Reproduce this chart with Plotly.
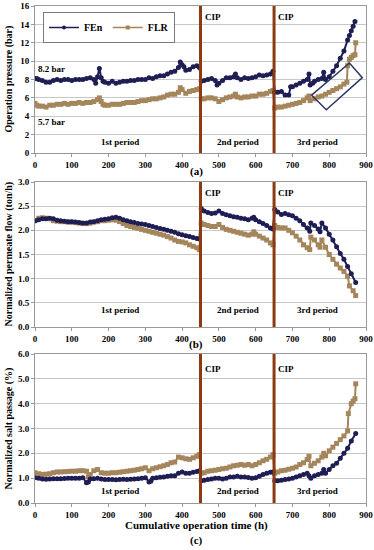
import plotly.graph_objects as go

# ---------------- data (time h, value) ----------------
fen_pressure = [(0,8.1),(5,8.1),(10,8.0),(20,7.9),(30,7.7),(40,7.7),(50,7.9),(60,8.0),(70,7.9),(80,8.0),(90,8.0),(100,7.9),(110,8.0),(120,8.0),(130,8.0),(140,8.1),(150,8.2),(160,8.0),(165,7.6),(170,8.3),(175,9.2),(180,8.2),(185,7.8),(190,7.7),(200,7.6),(210,7.8),(220,7.6),(230,7.7),(240,7.8),(250,7.8),(260,7.9),(270,7.9),(280,8.0),(290,8.0),(300,8.0),(310,8.2),(320,8.1),(330,8.3),(340,8.4),(350,8.4),(360,8.6),(370,8.8),(380,8.9),(390,9.3),(395,9.9),(400,9.6),(405,9.4),(410,9.0),(420,9.1),(430,9.4),(440,9.5),(447,9.3),
                (452,7.8),(460,7.9),(470,8.0),(480,8.1),(490,7.9),(495,7.4),(500,7.6),(510,7.9),(520,8.2),(530,8.2),(540,8.3),(545,8.6),(550,8.2),(560,8.0),(570,8.2),(580,8.1),(590,8.2),(600,8.3),(610,8.5),(620,8.4),(630,8.5),(640,8.6),(647,8.9),
                (652,6.6),(660,6.6),(670,6.7),(680,6.3),(690,6.3),(695,7.2),(700,7.2),(710,7.4),(720,7.6),(730,7.8),(740,8.0),(745,8.6),(748,7.4),(755,7.6),(760,7.8),(770,8.0),(780,8.1),(785,8.8),(790,8.0),(800,8.3),(810,8.9),(820,9.5),(830,10.3),(840,11.1),(850,12.3),(855,12.8),(860,13.3),(865,13.8),(870,14.3)]
flr_pressure = [(0,5.4),(5,5.2),(10,5.1),(20,5.1),(30,5.0),(40,5.2),(50,5.2),(60,5.3),(70,5.3),(80,5.4),(90,5.3),(100,5.4),(110,5.4),(120,5.5),(130,5.4),(140,5.5),(150,5.5),(160,5.6),(170,5.8),(175,6.0),(180,5.6),(185,5.3),(190,5.2),(200,5.2),(210,5.3),(220,5.3),(230,5.3),(240,5.4),(250,5.5),(260,5.5),(270,5.5),(280,5.6),(290,5.7),(300,5.7),(310,5.8),(320,5.9),(330,5.9),(340,6.0),(350,6.1),(360,6.3),(370,6.4),(380,6.4),(390,6.6),(395,7.1),(400,6.9),(410,6.5),(420,6.7),(430,6.8),(440,6.9),(447,7.0),
                (452,5.9),(460,5.9),(470,6.0),(480,6.0),(490,5.9),(500,5.6),(510,5.8),(520,6.0),(530,6.1),(540,6.2),(545,6.4),(550,6.1),(560,6.0),(570,6.1),(580,6.1),(590,6.2),(600,6.2),(610,6.4),(620,6.4),(630,6.5),(640,6.7),(647,6.8),
                (652,4.9),(660,5.0),(670,5.0),(680,5.1),(690,5.2),(700,5.3),(710,5.4),(720,5.5),(730,5.7),(740,6.0),(745,6.2),(748,5.7),(760,5.9),(770,6.1),(780,6.2),(790,6.4),(800,6.6),(810,6.8),(820,7.0),(830,7.2),(840,7.5),(848,7.7),(850,9.5),(855,10.2),(860,10.4),(865,10.6),(870,10.7),(872,12.0)]

fen_flow = [(0,2.2),(10,2.22),(20,2.24),(30,2.24),(40,2.25),(50,2.24),(60,2.21),(70,2.2),(80,2.19),(90,2.18),(100,2.18),(110,2.17),(120,2.16),(130,2.15),(140,2.15),(150,2.17),(160,2.18),(170,2.2),(180,2.22),(190,2.23),(200,2.24),(210,2.26),(220,2.27),(230,2.25),(240,2.22),(250,2.2),(260,2.18),(270,2.16),(280,2.14),(290,2.13),(300,2.12),(310,2.1),(320,2.08),(330,2.06),(340,2.04),(350,2.02),(360,2.0),(370,1.98),(380,1.96),(390,1.93),(400,1.91),(410,1.89),(420,1.87),(430,1.85),(440,1.83),(447,1.82),
            (452,2.45),(460,2.4),(470,2.37),(480,2.35),(490,2.36),(500,2.4),(510,2.35),(520,2.32),(530,2.3),(540,2.28),(550,2.27),(560,2.25),(570,2.24),(580,2.22),(590,2.25),(595,2.27),(600,2.22),(610,2.18),(620,2.14),(630,2.1),(640,2.05),(647,2.03),
            (652,2.43),(660,2.38),(670,2.33),(680,2.35),(690,2.32),(700,2.3),(710,2.25),(720,2.2),(730,2.12),(740,2.05),(747,1.98),(750,2.15),(760,2.1),(770,2.03),(775,1.97),(780,2.15),(790,2.05),(800,1.92),(810,1.8),(820,1.66),(830,1.52),(840,1.4),(850,1.25),(860,1.1),(872,0.92)]
flr_flow = [(0,2.2),(10,2.25),(20,2.26),(30,2.25),(40,2.24),(50,2.2),(60,2.19),(70,2.18),(80,2.18),(90,2.17),(100,2.17),(110,2.16),(120,2.15),(130,2.14),(140,2.14),(150,2.15),(160,2.17),(170,2.18),(180,2.2),(190,2.2),(200,2.21),(210,2.22),(220,2.21),(230,2.18),(240,2.14),(250,2.1),(260,2.08),(270,2.06),(280,2.04),(290,2.02),(300,2.0),(310,1.98),(320,1.96),(330,1.94),(340,1.92),(350,1.9),(360,1.87),(370,1.84),(380,1.8),(390,1.77),(400,1.76),(410,1.74),(420,1.7),(430,1.67),(440,1.64),(447,1.6),
            (452,2.15),(460,2.12),(470,2.1),(480,2.08),(490,2.08),(500,2.12),(510,2.06),(520,2.02),(530,2.0),(540,1.98),(550,1.96),(560,1.94),(570,1.92),(580,1.9),(590,1.92),(595,1.97),(600,1.92),(610,1.88),(620,1.84),(630,1.8),(640,1.74),(647,1.7),
            (652,2.1),(660,2.06),(670,2.05),(680,2.05),(690,2.0),(700,1.95),(710,1.88),(720,1.8),(730,1.7),(740,1.64),(747,1.6),(750,1.86),(760,1.8),(770,1.7),(775,1.65),(780,1.8),(790,1.65),(800,1.5),(810,1.4),(820,1.3),(830,1.22),(840,1.15),(850,1.05),(855,0.85),(865,0.75),(872,0.65)]

fen_salt = [(0,1.02),(10,1.0),(20,0.97),(30,0.96),(40,0.97),(50,0.98),(60,0.98),(70,0.98),(80,0.99),(90,1.0),(100,1.0),(110,1.0),(120,1.0),(130,1.02),(140,0.82),(145,0.85),(150,0.97),(160,0.98),(170,1.0),(180,0.97),(190,0.95),(200,0.95),(210,0.95),(220,0.94),(230,0.95),(240,0.96),(250,0.95),(260,0.96),(270,0.97),(280,0.98),(290,1.0),(300,1.02),(310,0.85),(315,0.88),(320,1.0),(330,1.02),(340,1.04),(350,1.05),(360,1.08),(370,1.1),(380,1.1),(390,1.2),(400,1.25),(410,1.2),(420,1.2),(430,1.24),(440,1.27),(447,1.3),
            (452,0.9),(460,0.92),(470,0.95),(480,0.97),(490,1.0),(500,1.0),(510,0.97),(520,1.0),(530,1.05),(540,1.05),(550,1.08),(560,1.05),(570,1.05),(580,1.03),(590,1.0),(600,1.02),(610,1.08),(620,1.15),(630,1.2),(640,1.24),(647,1.25),
            (652,0.9),(660,0.9),(670,0.92),(680,0.95),(690,0.97),(700,1.0),(710,1.05),(720,1.1),(730,1.15),(740,1.2),(745,1.1),(750,1.0),(760,1.1),(770,1.15),(780,1.2),(785,1.35),(790,1.2),(800,1.35),(810,1.5),(820,1.6),(830,1.8),(840,2.0),(850,2.2),(860,2.5),(872,2.8)]
flr_salt = [(0,1.22),(10,1.18),(20,1.15),(30,1.16),(40,1.18),(50,1.22),(60,1.25),(70,1.25),(80,1.26),(90,1.27),(100,1.28),(110,1.28),(120,1.3),(130,1.3),(140,1.28),(145,1.05),(150,1.15),(160,1.3),(170,1.35),(180,1.22),(190,1.2),(200,1.2),(210,1.22),(220,1.22),(230,1.24),(240,1.26),(250,1.28),(260,1.3),(270,1.32),(280,1.35),(290,1.38),(300,1.42),(310,1.3),(320,1.38),(330,1.42),(340,1.46),(350,1.5),(360,1.55),(370,1.62),(380,1.65),(390,1.85),(400,1.82),(410,1.78),(420,1.76),(430,1.82),(440,1.88),(447,1.95),
            (452,1.2),(460,1.22),(470,1.28),(480,1.3),(490,1.32),(500,1.35),(510,1.38),(520,1.4),(530,1.45),(540,1.5),(550,1.52),(560,1.55),(570,1.52),(580,1.55),(590,1.5),(600,1.55),(610,1.62),(620,1.7),(630,1.76),(640,1.85),(647,1.95),
            (652,1.2),(660,1.25),(670,1.3),(680,1.32),(690,1.36),(700,1.4),(710,1.45),(720,1.55),(730,1.62),(740,1.75),(745,1.88),(750,1.5),(760,1.6),(770,1.7),(780,1.85),(785,2.0),(790,1.9),(800,2.1),(810,2.25),(820,2.4),(830,2.55),(840,2.7),(850,2.9),(852,3.6),(860,4.0),(865,4.1),(870,4.2),(872,4.8)]

cip_times = [450, 650]
period_labels = ["1st period", "2nd period", "3rd period"]
period_x = [230, 553, 768]
x_ticks = [0, 100, 200, 300, 400, 500, 600, 700, 800, 900]
y_titles = ["Operation pressure (bar)", "Normalized permeate flow (ton/h)", "Normalized salt passage (%)"]
panel_tags = ["(a)", "(b)", "(c)"]
# rotated box highlighting the 3rd period FLR rise (time, pressure)
box_corners = [(752, 6.3), (855, 9.8), (890, 8.2), (792, 4.7)]

# ---------------- styling ----------------
FEN_C = "#1E1E55"
FLR_C = "#A5865C"
CIP_C = "#8B3A12"
GRID_C = "#C8C8C8"
AX_C = "#9A9A9A"
SERIF = "Liberation Serif"

W, H = 374, 550
PLOT_L, PLOT_R = 35, 366

def py(px):
    return (H - px) / H

def pxx(px):
    return (px - PLOT_L) / (PLOT_R - PLOT_L)

domains = [(py(153), py(6)), (py(327), py(182)), (py(503), py(354))]
yranges = [(0, 16), (0, 3.0), (0, 6.0)]
ydticks = [2, 0.5, 1.0]
yfmts = ["d", ".1f", ".1f"]
period_y = [1.2, 0.35, 0.48]
tag_px = [171, 344, 540]
cip_px = [17, 193, 369]

fig = go.Figure()
series = [(fen_pressure, flr_pressure), (fen_flow, flr_flow), (fen_salt, flr_salt)]
for i, (fen, flr) in enumerate(series):
    xa = "x" if i == 0 else f"x{i+1}"
    ya = "y" if i == 0 else f"y{i+1}"
    fig.add_trace(go.Scatter(x=[p[0] for p in flr], y=[p[1] for p in flr], name="FLR",
                             mode="lines+markers", line=dict(color=FLR_C, width=2),
                             marker=dict(symbol="square", size=5, color=FLR_C),
                             xaxis=xa, yaxis=ya, showlegend=False))
    fig.add_trace(go.Scatter(x=[p[0] for p in fen], y=[p[1] for p in fen], name="FEn",
                             mode="lines+markers", line=dict(color=FEN_C, width=2),
                             marker=dict(symbol="circle", size=5, color=FEN_C),
                             xaxis=xa, yaxis=ya, showlegend=False))

# legend entries in the reference order
fig.add_trace(go.Scatter(x=[None], y=[None], name="FEn", mode="lines+markers",
                         line=dict(color=FEN_C, width=1.5), marker=dict(symbol="circle", size=4, color=FEN_C)))
fig.add_trace(go.Scatter(x=[None], y=[None], name="FLR", mode="lines+markers",
                         line=dict(color=FLR_C, width=1.5), marker=dict(symbol="square", size=4, color=FLR_C)))

tickfont = dict(family=SERIF, size=9, color="black", weight="bold")
lay = {}
for i in range(3):
    xk = "xaxis" if i == 0 else f"xaxis{i+1}"
    yk = "yaxis" if i == 0 else f"yaxis{i+1}"
    yname = "y" if i == 0 else f"y{i+1}"
    xname = "x" if i == 0 else f"x{i+1}"
    lay[xk] = dict(domain=[0, 1], anchor=yname, range=[0, 900], tickvals=x_ticks, automargin=False,
                   showgrid=False, zeroline=False, showline=True, linecolor=AX_C, mirror=True,
                   ticks="outside", ticklen=3, tickcolor=AX_C, tickfont=tickfont)
    lay[yk] = dict(domain=list(domains[i]), anchor=xname, range=list(yranges[i]), dtick=ydticks[i],
                   tickformat=yfmts[i], showgrid=True, gridcolor=GRID_C, gridwidth=1, zeroline=False,
                   automargin=False, showline=True, linecolor=AX_C, mirror=True, ticks="outside",
                   ticklen=3, tickcolor=AX_C, tickfont=tickfont)

annotations = []
shapes = []
for i in range(3):
    xname = "x" if i == 0 else f"x{i+1}"
    yname = "y" if i == 0 else f"y{i+1}"
    for t in cip_times:
        shapes.append(dict(type="line", xref=xname, yref=f"{yname} domain", x0=t, x1=t, y0=0, y1=1,
                           line=dict(color=CIP_C, width=3)))
        annotations.append(dict(text="CIP", xref=xname, yref="paper", x=t + 6, y=py(cip_px[i]),
                                xanchor="left", yanchor="middle", showarrow=False,
                                font=dict(family=SERIF, size=9, color="black", weight="bold")))
    for lbl, px_ in zip(period_labels, period_x):
        annotations.append(dict(text=lbl, xref=xname, yref=yname, x=px_, y=period_y[i],
                                xanchor="center", yanchor="middle", showarrow=False,
                                font=dict(family=SERIF, size=9, color="black", weight="bold")))
    annotations.append(dict(text=y_titles[i], xref="paper", yref="paper", x=pxx(8),
                            y=(domains[i][0] + domains[i][1]) / 2, textangle=-90,
                            xanchor="center", yanchor="middle", showarrow=False,
                            font=dict(family=SERIF, size=10, color="black", weight="bold")))
    annotations.append(dict(text=panel_tags[i], xref="paper", yref="paper", x=pxx(196),
                            y=py(tag_px[i]), xanchor="center", yanchor="middle", showarrow=False,
                            font=dict(family=SERIF, size=11, color="black", weight="bold")))

annotations.append(dict(text="Cumulative operation time (h)", xref="paper", yref="paper",
                        x=pxx(196), y=py(525), xanchor="center", yanchor="middle", showarrow=False,
                        font=dict(family=SERIF, size=11, color="black", weight="bold")))
annotations.append(dict(text="8.2 bar", xref="x", yref="y", x=3, y=9.1, xanchor="left", showarrow=False,
                        font=dict(family=SERIF, size=9, color="black", weight="bold")))
annotations.append(dict(text="5.7 bar", xref="x", yref="y", x=3, y=3.4, xanchor="left", showarrow=False,
                        font=dict(family=SERIF, size=9, color="black", weight="bold")))

path = "M " + " L ".join(f"{x},{y}" for x, y in box_corners) + " Z"
shapes.append(dict(type="path", xref="x", yref="y", path=path, line=dict(color="#2E3A66", width=1.5)))

fig.update_layout(
    width=W, height=H, margin=dict(l=PLOT_L, r=W - PLOT_R, t=0, b=0, autoexpand=False),
    paper_bgcolor="white", plot_bgcolor="white",
    shapes=shapes, annotations=annotations,
    legend=dict(x=pxx(43), y=py(12), xanchor="left", yanchor="top", orientation="h",
                bordercolor="#7A7A7A", borderwidth=1, bgcolor="white",
                font=dict(family=SERIF, size=10, color="black", weight="bold"),
                itemwidth=30, tracegroupgap=0),
    **lay,
)

# remove the browser's default 8px page margin so the 374x550 figure fills the window
fig.write_html("out.html", config={"displayModeBar": False},
               post_script="document.body.style.margin='0';")
